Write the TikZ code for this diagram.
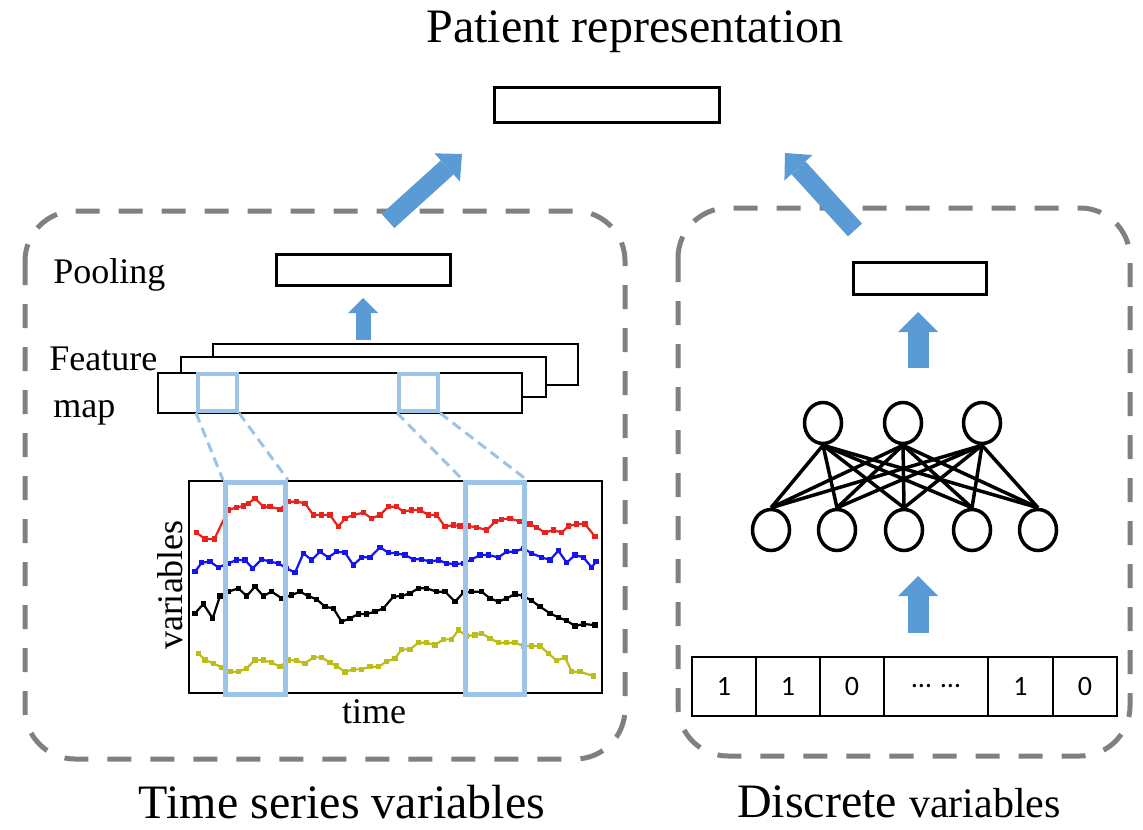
\documentclass[tikz,border=0pt]{standalone}
\usepackage{fontspec}
\setmainfont{Liberation Serif}
\newfontfamily\calib{Carlito}
\usetikzlibrary{arrows.meta,shapes.geometric,plotmarks}
\definecolor{arrowblue}{HTML}{5B9BD5}
\definecolor{lightblue}{HTML}{9DC3E6}
\definecolor{dashgray}{HTML}{808080}
\definecolor{sred}{HTML}{E8231E}
\definecolor{sblue}{HTML}{1414F0}
\definecolor{syellow}{HTML}{BDBD1A}
\begin{document}
\begin{tikzpicture}[x=0.5pt,y=-0.5pt,
  groupbox/.style={draw=dashgray, line width=2.5pt, dash pattern=on 12pt off 9.5pt, rounded corners=25pt},
  bigarrow/.style={draw=arrowblue, line width=9.5pt, -{Triangle[length=10pt,width=19pt,line width=0pt]}},
  smallarrowA/.style={draw=arrowblue, line width=7.5pt, -{Triangle[length=7.5pt,width=15pt,line width=0pt]}},
  smallarrowB/.style={draw=arrowblue, line width=10.5pt, -{Triangle[length=10pt,width=20pt,line width=0pt]}},
  vecbox/.style={draw=black, line width=1.5pt, fill=white},
  fmap/.style={draw=black, line width=1pt, fill=white},
  win/.style={draw=lightblue, line width=2pt, inner sep=0pt, minimum width=19.5pt, minimum height=18.5pt},
  tallwin/.style={draw=lightblue, line width=2.5pt, inner sep=0pt, minimum height=106pt},
  zoomline/.style={draw=lightblue, line width=1.5pt, dash pattern=on 5pt off 3pt},
  series/.style={line width=1.1pt, mark=square*, mark size=0.8pt},
  neuron/.style={draw=black, line width=1.75pt, ellipse, inner sep=0pt, minimum width=18.5pt, minimum height=20.5pt},
  nnedge/.style={draw=black, line width=1.75pt},
  bit/.style={draw=black, line width=1pt, inner sep=0pt, minimum height=29.5pt, font=\calib\fontsize{14}{16}\selectfont},
  lbl/.style={font=\fontsize{18}{21}\selectfont, inner sep=0pt},
  big/.style={font=\fontsize{24}{28}\selectfont, inner sep=0pt}
]
\useasboundingbox (0,0) rectangle (1143,829);

% group boxes
\draw[groupbox] (25,211) rectangle (625,759);
\draw[groupbox] (678,208) rectangle (1130,756);

% title and top representation vector
\node[big, anchor=base] (title) at (635,43) {Patient representation};
\draw[vecbox] (494.5,87.5) rectangle (719.5,122.5);

% big arrows
\coordinate (la1) at (388,221);
\coordinate (la2) at (462,154);
\coordinate (ra1) at (855,230);
\coordinate (ra2) at (785,153);
\draw[bigarrow] (la1) -- (la2);
\draw[bigarrow] (ra1) -- (ra2);

% ---------- left: time series ----------
\node[lbl, anchor=base west] (pool) at (53,283) {Pooling};
\draw[vecbox] (276.5,254.5) rectangle (450.5,285.5);
\coordinate (pa1) at (363,340);
\coordinate (pa2) at (363,298);
\draw[smallarrowA] (pa1) -- (pa2);

\node[lbl, anchor=base west] (feat) at (49,370) {Feature};
\node[lbl, anchor=base west] (map) at (53,417) {map};
\draw[fmap] (213,344) rectangle (578,385);
\draw[fmap] (181,357) rectangle (546,397);
\draw[fmap] (158,373) rectangle (522,413);
\node[win] (w1) at (217.5,392.5) {};
\node[win] (w2) at (418.5,392.5) {};

% plot
\draw[line width=1pt] (189,481) rectangle (602,693);
\begin{scope}[shift={(180,470)}, x=0.16667pt, y=-0.16667pt]
\draw[series, color=sred] plot coordinates {(50,188) (75,207) (103,207) (145,120) (170,112) (190,108) (205,100) (225,85) (250,110) (270,110) (300,118) (325,95) (350,95) (375,100) (400,135) (425,135) (450,135) (475,170) (495,145) (520,135) (550,128) (575,145) (600,135) (625,110) (650,110) (670,125) (695,120) (720,120) (745,135) (770,135) (795,170) (820,165) (840,168) (865,168) (890,172) (920,180) (945,155) (965,148) (990,145) (1020,155) (1050,162) (1070,172) (1095,188) (1120,180) (1145,188) (1165,168) (1190,162) (1215,162) (1245,200)};
\draw[series, color=sblue] plot coordinates {(45,305) (65,278) (90,275) (115,292) (145,280) (170,270) (195,270) (218,295) (245,268) (270,275) (295,280) (320,295) (345,308) (370,250) (395,270) (420,245) (445,262) (470,245) (495,248) (520,285) (545,262) (570,262) (600,232) (625,248) (650,250) (675,255) (700,268) (725,268) (750,275) (775,270) (800,280) (825,282) (850,280) (875,268) (900,255) (925,255) (955,262) (980,245) (1005,245) (1030,235) (1055,250) (1085,262) (1110,270) (1135,242) (1160,278) (1185,255) (1210,262) (1235,292) (1248,275)};
\draw[series, color=black] plot coordinates {(45,430) (70,402) (98,445) (120,378) (145,365) (175,355) (200,378) (225,350) (250,378) (275,365) (305,385) (335,375) (360,365) (385,378) (410,388) (435,410) (460,415) (485,455) (510,445) (535,432) (560,432) (585,425) (610,415) (640,380) (665,378) (690,370) (715,355) (740,355) (770,365) (795,365) (825,395) (850,368) (875,365) (905,365) (930,385) (955,395) (980,385) (1005,372) (1030,378) (1055,392) (1080,410) (1110,430) (1135,442) (1160,452) (1185,468) (1210,462) (1245,465)};
\draw[series, color=syellow] plot coordinates {(55,550) (75,570) (100,580) (125,592) (150,605) (175,605) (200,595) (225,570) (250,570) (275,578) (300,590) (325,570) (350,572) (375,580) (400,562) (425,562) (450,578) (470,588) (495,606) (520,598) (545,598) (570,590) (595,590) (620,575) (645,565) (665,538) (690,538) (715,518) (740,518) (765,525) (790,508) (815,508) (835,480) (860,498) (885,495) (905,490) (930,505) (955,518) (980,518) (1005,518) (1030,528) (1055,528) (1080,528) (1105,550) (1130,572) (1155,562) (1175,605) (1200,605) (1240,618)};
\end{scope}
\node[tallwin, minimum width=30pt] (t1) at (255.5,588.5) {};
\node[tallwin, minimum width=29.5pt] (t2) at (495,588.5) {};
\draw[zoomline] (w1.south west) -- (t1.north west);
\draw[zoomline] (w1.south east) -- (t1.north east);
\draw[zoomline] (w2.south west) -- (t2.north west);
\draw[zoomline] (w2.south east) -- (t2.north east);

\node[lbl, anchor=base] (tlab) at (374,723) {time};
\node[lbl, rotate=90] (vlab) at (170,585) {variables};
\node[big, anchor=base] (tsv) at (342,818) {Time series variables};

% ---------- right: discrete ----------
\draw[vecbox] (853.5,262.5) rectangle (986.5,294.5);
\coordinate (da1) at (918,368);
\coordinate (da2) at (918,312);
\draw[smallarrowB] (da1) -- (da2);

\node[neuron] (n1) at (823,423) {};
\node[neuron] (n2) at (903,423) {};
\node[neuron] (n3) at (982,423) {};
\node[neuron] (m1) at (771,530) {};
\node[neuron] (m2) at (837,530) {};
\node[neuron] (m3) at (904,530) {};
\node[neuron] (m4) at (972,530) {};
\node[neuron] (m5) at (1038,530) {};
\foreach \i in {1,2,3}{
  \foreach \j in {1,...,5}{
    \draw[nnedge] (n\i.south) -- (m\j.north);
  }
}
\coordinate (db1) at (918,633);
\coordinate (db2) at (918,576);
\draw[smallarrowB] (db1) -- (db2);

\node[bit, minimum width=32pt] (c1) at (724,686.5) {1};
\node[bit, minimum width=32pt] (c2) at (788,686.5) {1};
\node[bit, minimum width=32pt] (c3) at (852,686.5) {0};
\node[bit, minimum width=52pt] (c4) at (936,686.5) {…\hspace{0.35em}…};
\node[bit, minimum width=32.5pt] (c5) at (1020.5,686.5) {1};
\node[bit, minimum width=32pt] (c6) at (1085,686.5) {0};

\node[anchor=base, inner sep=0pt] (dv) at (899,817) {\fontsize{24}{28}\selectfont Discrete \fontsize{21}{25}\selectfont variables};
\end{tikzpicture}
\end{document}
